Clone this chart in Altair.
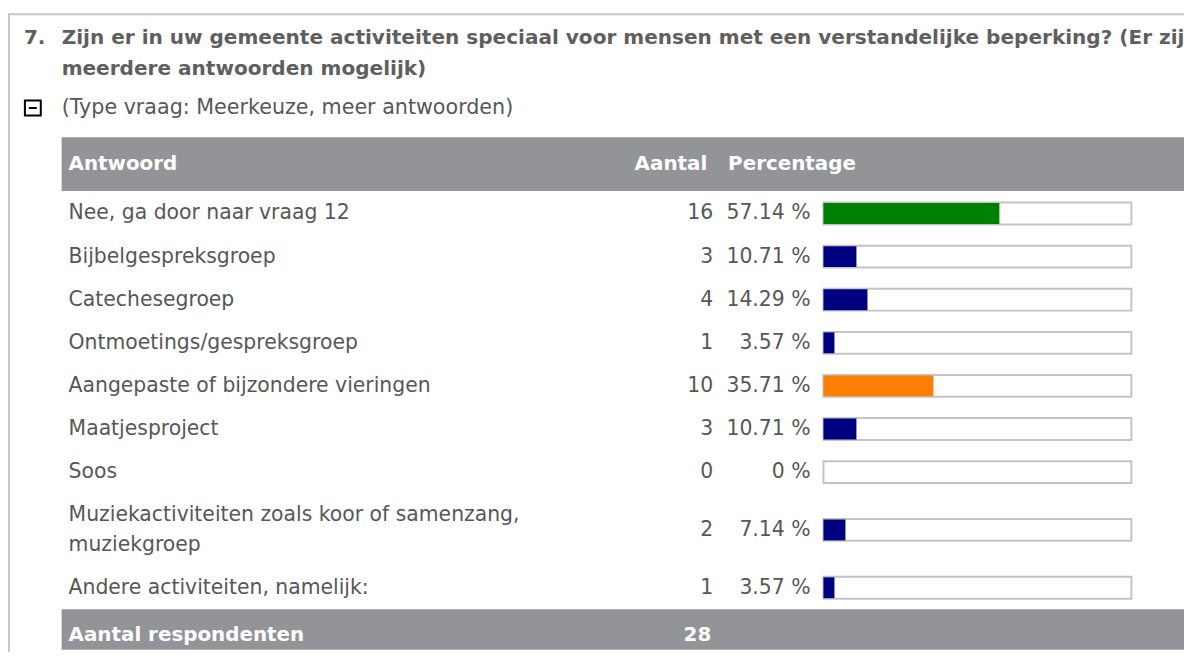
import altair as alt
import pandas as pd

# ---------------- data ----------------
question_no = "7."
question_lines = [
    "Zijn er in uw gemeente activiteiten speciaal voor mensen met een verstandelijke beperking? (Er zijn",
    "meerdere antwoorden mogelijk)",
]
question_type = "(Type vraag: Meerkeuze, meer antwoorden)"
headers = ["Antwoord", "Aantal", "Percentage"]
answers = [
    "Nee, ga door naar vraag 12",
    "Bijbelgespreksgroep",
    "Catechesegroep",
    "Ontmoetings/gespreksgroep",
    "Aangepaste of bijzondere vieringen",
    "Maatjesproject",
    "Soos",
    "Muziekactiviteiten zoals koor of samenzang,\nmuziekgroep",
    "Andere activiteiten, namelijk:",
]
counts = [16, 3, 4, 1, 10, 3, 0, 2, 1]
percentages = [57.14, 10.71, 14.29, 3.57, 35.71, 10.71, 0, 7.14, 3.57]
footer_label = "Aantal respondenten"
respondents = 28

# ---------------- layout ----------------
W, H = 1184, 644
FONT = "DejaVu Sans"
TXT = "#575757"
GREY = "#939498"
BORDER = "#c8c8c8"
ROW_TOP = 183.0
ROW_H = 43.4
LINE_H = 29.6
BODY = 20.5

ycs = []
line_rows = []
y = ROW_TOP
for a in answers:
    parts = a.split("\n")
    n = len(parts)
    h = ROW_H + LINE_H * (n - 1)
    yc = y + h / 2
    ycs.append(yc)
    for i, p in enumerate(parts):
        line_rows.append({"t": p, "yl": yc - (n - 1) * LINE_H / 2 + i * LINE_H})
    y += h
rows_bottom = y

ranked = sorted(set(counts), reverse=True)
def rank_cat(c):
    if c == ranked[0]:
        return "eerste"
    if c == ranked[1]:
        return "tweede"
    return "overig"

df = pd.DataFrame({
    "antwoord": answers,
    "aantal": counts,
    "pct": percentages,
    "pct_label": [f"{p:g} %" for p in percentages],
    "cat": [rank_cat(c) for c in counts],
    "yc": ycs,
    "full": [100] * len(answers),
})
lines_df = pd.DataFrame(line_rows)

yscale = alt.Scale(domain=[0, H], range=[0, H], nice=False, zero=False, padding=0)
xbar = alt.Scale(domain=[0, 100], range=[821, 1131], nice=False, padding=0)
one = pd.DataFrame({"a": [0]})
base1 = alt.Chart(one)

# outer panel border (top + left edges visible)
panel = base1.mark_rect(fillOpacity=0, stroke=BORDER, strokeWidth=2).encode(
    x=alt.value(1), x2=alt.value(W + 40), y=alt.value(4), y2=alt.value(H + 40))

# title
tstyle = dict(align="left", baseline="middle", font=FONT, fontSize=20.2,
              fontWeight="bold", color="#5f5f5f")
title_no = base1.mark_text(**tstyle).encode(
    x=alt.value(16), y=alt.value(28), text=alt.value(question_no))
t1 = base1.mark_text(**tstyle).encode(
    x=alt.value(54), y=alt.value(28), text=alt.value(question_lines[0]))
t2 = base1.mark_text(**tstyle).encode(
    x=alt.value(54), y=alt.value(59), text=alt.value(question_lines[1]))

# minus box
box = base1.mark_rect(fill="white", stroke="black", strokeWidth=2).encode(
    x=alt.value(17), x2=alt.value(33), y=alt.value(91), y2=alt.value(106))
minus = base1.mark_rule(color="black", strokeWidth=2).encode(
    x=alt.value(21), x2=alt.value(29), y=alt.value(98.5))
qtype = base1.mark_text(align="left", baseline="middle", font=FONT, fontSize=20.8,
                        color=TXT).encode(
    x=alt.value(54), y=alt.value(99), text=alt.value(question_type))

# header bar
header_bar = base1.mark_rect(color=GREY).encode(
    x=alt.value(54), x2=alt.value(W), y=alt.value(128), y2=alt.value(182))
hdr_style = dict(baseline="middle", font=FONT, fontSize=20, fontWeight="bold", color="white")
h1 = base1.mark_text(align="left", **hdr_style).encode(
    x=alt.value(61), y=alt.value(155), text=alt.value(headers[0]))
h2 = base1.mark_text(align="right", **hdr_style).encode(
    x=alt.value(704), y=alt.value(155), text=alt.value(headers[1]))
h3 = base1.mark_text(align="left", **hdr_style).encode(
    x=alt.value(725), y=alt.value(155), text=alt.value(headers[2]))

# rows
base = alt.Chart(df)
Y = alt.Y("yc:Q", scale=yscale, axis=None)
labels = alt.Chart(lines_df).mark_text(align="left", baseline="middle", font=FONT,
                                       fontSize=BODY, color=TXT).encode(
    x=alt.value(61), y=alt.Y("yl:Q", scale=yscale, axis=None), text="t:N")
cnt = base.mark_text(align="right", baseline="middle", font=FONT, fontSize=BODY,
                     color=TXT).encode(
    x=alt.value(710), y=Y, text="aantal:Q")
pct = base.mark_text(align="right", baseline="middle", font=FONT, fontSize=BODY,
                     color=TXT).encode(
    x=alt.value(808), y=Y, text="pct_label:N")
track = base.mark_bar(orient="horizontal", size=22, fill="white", stroke="#c4c4c4",
                      strokeWidth=2).encode(
    x=alt.X("full:Q", scale=xbar, axis=None), x2=alt.datum(0), y=Y)
bars = base.mark_bar(orient="horizontal", size=21).encode(
    x=alt.X("pct:Q", scale=xbar, axis=None), x2=alt.datum(0), y=Y,
    color=alt.Color("cat:N", scale=alt.Scale(domain=["eerste", "tweede", "overig"],
                                             range=["#008000", "#ff8000", "#000080"]),
                    legend=None),
)

# footer
foot_df = pd.DataFrame({"label": [footer_label], "n": [respondents], "yf": [rows_bottom]})
footer_bar = alt.Chart(foot_df).mark_rect(color=GREY).encode(
    x=alt.value(54), x2=alt.value(W),
    y=alt.Y("yf:Q", scale=yscale, axis=None), y2=alt.value(H))
f1 = alt.Chart(foot_df).mark_text(align="left", **hdr_style).encode(
    x=alt.value(61), y=alt.value(629), text="label:N")
f2 = alt.Chart(foot_df).mark_text(align="right", **hdr_style).encode(
    x=alt.value(708), y=alt.value(629), text="n:Q")

chart = alt.layer(
    panel, title_no, t1, t2, box, minus, qtype,
    header_bar, h1, h2, h3,
    track, bars, labels, cnt, pct,
    footer_bar, f1, f2,
).properties(
    width=W, height=H, padding=0,
    autosize=alt.AutoSizeParams(type="none"),
).configure_view(stroke=None)

chart.save("out.html", embed_options={"renderer": "svg", "actions": False})
